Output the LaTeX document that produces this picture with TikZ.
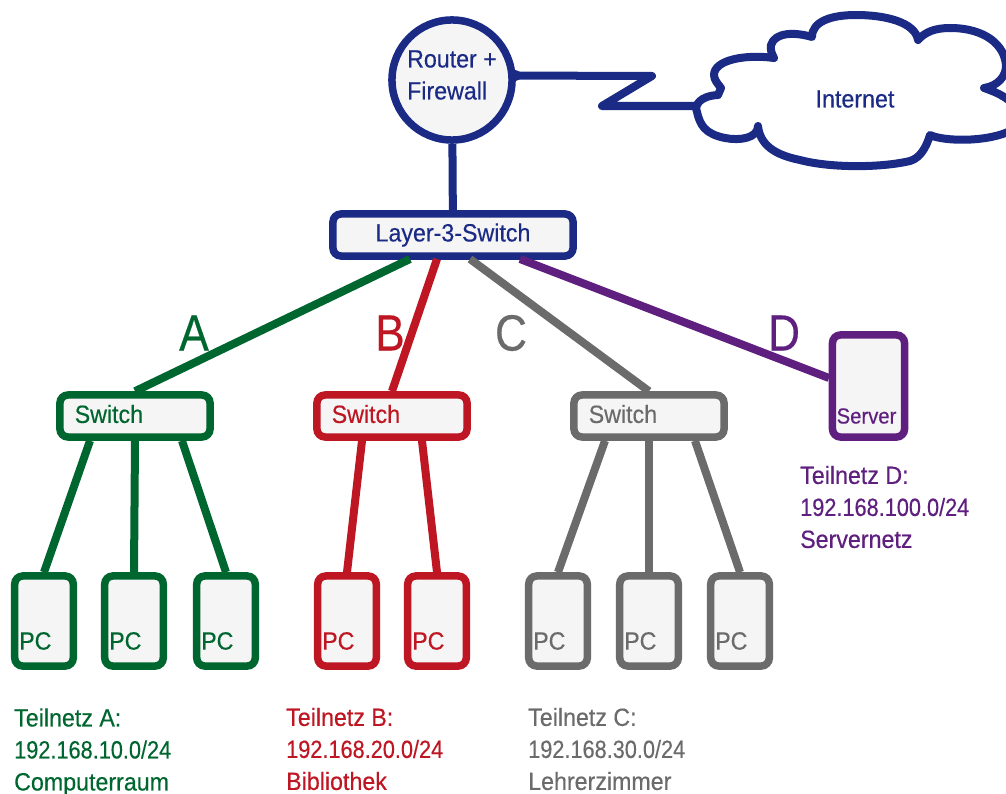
\documentclass[tikz,border=0pt]{standalone}
\usepackage{fontspec}
\setmainfont[FakeStretch=0.93,FakeBold=0.35]{Liberation Sans}
\newfontfamily\ipfont[FakeStretch=0.87,FakeBold=0.35]{Liberation Sans}
\usetikzlibrary{calc}

\definecolor{netnavy}{HTML}{1A2A85}
\definecolor{netgreen}{HTML}{00662F}
\definecolor{netred}{HTML}{BE1622}
\definecolor{netgray}{HTML}{6B6B6B}
\definecolor{netpurple}{HTML}{5F1F7F}
\definecolor{boxfill}{HTML}{F5F5F5}

\tikzset{
    netlink/.style={draw=#1, line width=0.08cm, line join=round},
    devbox/.style={draw=#1, fill=boxfill, line width=0.075cm, rounded corners=0.08cm},
    switchbox/.style={devbox=#1, minimum width=1.5cm, minimum height=0.42cm, inner sep=0pt},
    pcbox/.style={devbox=#1, minimum width=0.585cm, minimum height=0.9cm, inner sep=0pt},
    nettext/.style={text=#1, font=\fontsize{7.1}{9.1}\selectfont, inner sep=0pt},
    netblock/.style={nettext=#1, align=left, anchor=west},
    netletter/.style={text=#1, font=\ipfont\fontsize{14.5}{15}\selectfont, inner sep=0pt}
}

\begin{document}
\begin{tikzpicture}[x=0.01cm, y=-0.01cm]
    \useasboundingbox (0,0) rectangle (1006,794);

    % Router and core switch
    \node[circle, draw=netnavy, fill=boxfill, line width=0.075cm, minimum size=1.2cm, inner sep=0pt] (router) at (452,80) {};
    \node[nettext=netnavy, align=left] (routertext) at (452,75) {Router +\\Firewall};
    \node[devbox=netnavy, minimum width=2.4cm, minimum height=0.42cm, inner sep=0pt,
          nettext=netnavy] (core) at (453,235) {Layer-3-Switch};

    % Internet cloud
    \begin{scope}
        \clip (0,0) rectangle (1006,794);
        \draw[netlink=netnavy]
            (718,95) .. controls (700,96) and (694,105) .. (697,112)
            .. controls (700,125) and (705,134) .. (725,138)
            .. controls (740,141) and (758,138) .. (758,126)
            .. controls (760,145) and (775,155) .. (800,160)
            .. controls (830,168) and (880,168) .. (910,161)
            .. controls (920,158) and (926,148) .. (930,135)
            .. controls (945,142) and (990,142) .. (1012,130)
            .. controls (1022,115) and (1020,100) .. (984,88)
            .. controls (998,86) and (1006,76) .. (1006,66)
            .. controls (1005,45) and (985,28) .. (950,28)
            .. controls (935,28) and (925,32) .. (918,40)
            .. controls (915,22) and (885,15) .. (856,15)
            .. controls (830,15) and (812,22) .. (812,37)
            .. controls (795,32) and (775,32) .. (771,45)
            .. controls (770,50) and (772,54) .. (774,58)
            .. controls (745,54) and (714,60) .. (714,75)
            .. controls (714,80) and (718,84) .. (721,88) -- cycle;
    \end{scope}
    \node[nettext=netnavy] (internet) at (855,99) {Internet};

    % Link to the cloud
    \coordinate (zigTop) at (652,76);
    \coordinate (zigLow) at (602,106);
    \coordinate (cloudIn) at (697,106);
    \draw[netlink=netnavy] (router.4) -- (zigTop) -- (zigLow) -- (cloudIn);
    \fill[netnavy] (router.4) circle (0.055cm);
    \draw[netlink=netnavy] (router) -- (core);

    % Distribution switches
    \foreach \x/\n/\c in {135/A/netgreen, 392/B/netred, 649/C/netgray} {
        \node[switchbox=\c, nettext=\c] (sw\n) at (\x,416) {};
        \node[nettext=\c, anchor=west] (swtext\n) at ($(sw\n.center)+(-61,-2)$) {Switch};
    }

    % Server
    \node[pcbox=netpurple, minimum width=0.72cm, minimum height=1.02cm] (server) at (868.5,386) {};
    \node[text=netpurple, font=\fontsize{6.2}{8}\selectfont, inner sep=0pt] (servertext) at (866.5,416) {Server};

    % Uplinks
    \coordinate (portA) at (410,259);
    \coordinate (portB) at (437,259);
    \coordinate (portC) at (470,259);
    \coordinate (portD) at (520,259);
    \coordinate (serverIn) at (829,378);
    \draw[netlink=netgreen] (portA) -- (swA.north);
    \draw[netlink=netred] (portB) -- (swB.north);
    \draw[netlink=netgray] (portC) -- (swC.north);
    \draw[netlink=netpurple] (portD) -- (serverIn);

    % Subnet letters
    \node[netletter=netgreen] (letterA) at (194,333) {A};
    \node[netletter=netred] (letterB) at (390,333) {B};
    \node[netletter=netgray] (letterC) at (511,333) {C};
    \node[netletter=netpurple] (letterD) at (784,333) {D};

    % PCs
    \foreach \x/\n/\s/\d/\c in {44/A1/A/-45/netgreen, 134/A2/A/0/netgreen, 226/A3/A/47/netgreen,
                                347/B1/B/-30/netred, 437/B2/B/30/netred,
                                558/C1/C/-44/netgray, 649/C2/C/0/netgray, 740/C3/C/46/netgray} {
        \node[pcbox=\c] (pc\n) at (\x,621) {};
        \node[nettext=\c, anchor=west] (pctext\n) at ($(pc\n.center)+(-25.5,20)$) {PC};
        \draw[netlink=\c] ($(sw\s.south)+(\d,0)$) -- (pc\n.north);
    }

    % Subnet descriptions
    \node[netblock=netgreen] (netA) at (13.5,752) {Teilnetz A:\\{\ipfont 192.168.10.0/24}\\Computerraum};
    \node[netblock=netred] (netB) at (285.5,749) {Teilnetz B:\\{\ipfont 192.168.20.0/24}\\Bibliothek};
    \node[netblock=netgray] (netC) at (527.5,749) {Teilnetz C:\\{\ipfont 192.168.30.0/24}\\Lehrerzimmer};
    \node[netblock=netpurple] (netD) at (799.5,507) {Teilnetz D:\\{\ipfont 192.168.100.0/24}\\Servernetz};
\end{tikzpicture}
\end{document}
